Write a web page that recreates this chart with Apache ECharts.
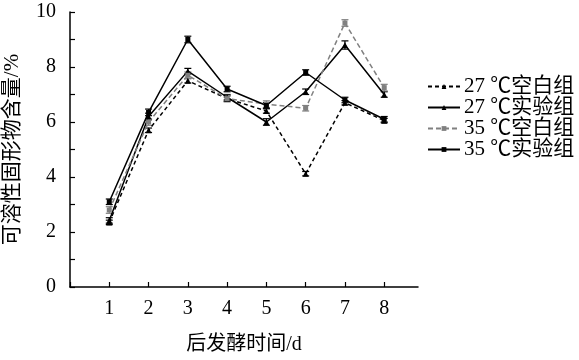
<!DOCTYPE html>
<html>
<head>
<meta charset="utf-8">
<script src="https://cdn.jsdelivr.net/npm/echarts@6/dist/echarts.min.js"></script>
<style>html,body{margin:0;padding:0;background:#fff}#c{width:579px;height:360px}</style>
</head>
<body>
<div id="c"></div>
<script>
const days = [1, 2, 3, 4, 5, 6, 7, 8];
const seriesNames = ['27 ℃空白组', '27 ℃实验组', '35 ℃空白组', '35 ℃实验组'];
const blank27 = [2.35, 5.7, 7.5, 6.85, 6.4, 4.12, 6.7, 6.05];
const exp27 = [2.42, 6.2, 7.85, 6.9, 6.0, 7.1, 8.8, 7.0];
const blank35 = [2.8, 6.0, 7.7, 6.85, 6.65, 6.5, 9.6, 7.25];
const exp35 = [3.1, 6.35, 9.0, 7.2, 6.6, 7.8, 6.8, 6.1];
const errBlank27 = [0.08, 0.08, 0.08, 0.1, 0.08, 0.08, 0.08, 0.08];
const errExp27 = [0.1, 0.12, 0.1, 0.1, 0.12, 0.1, 0.15, 0.1];
const errBlank35 = [0.12, 0.12, 0.12, 0.12, 0.12, 0.1, 0.12, 0.12];
const errExp35 = [0.1, 0.12, 0.12, 0.1, 0.1, 0.1, 0.1, 0.1];
const yTicks = [0, 2, 4, 6, 8, 10];

const FONT = "'Liberation Serif','Noto Sans CJK SC',serif";
const values = [blank27, exp27, blank35, exp35];
const errs = [errBlank27, errExp27, errBlank35, errExp35];
const colors = ['#000000', '#000000', '#808080', '#000000'];
const symbols = ['triangle', 'triangle', 'rect', 'rect'];
const lineTypes = [[4, 3], 'solid', [5, 3], 'solid'];

const series = [];
values.forEach((vals, i) => {
  series.push({
    name: seriesNames[i] + '误差',
    type: 'custom',
    silent: true,
    z: 3,
    data: days.map((d, k) => [d, vals[k] - errs[i][k], vals[k] + errs[i][k]]),
    renderItem: function (params, api) {
      const x = api.value(0);
      const lo = api.coord([x, api.value(1)]);
      const hi = api.coord([x, api.value(2)]);
      const w = 3.5;
      const st = { stroke: colors[i], lineWidth: 1.2 };
      return {
        type: 'group',
        children: [
          { type: 'line', shape: { x1: lo[0], y1: lo[1], x2: hi[0], y2: hi[1] }, style: st },
          { type: 'line', shape: { x1: lo[0] - w, y1: lo[1], x2: lo[0] + w, y2: lo[1] }, style: st },
          { type: 'line', shape: { x1: hi[0] - w, y1: hi[1], x2: hi[0] + w, y2: hi[1] }, style: st }
        ]
      };
    }
  });
  series.push({
    name: seriesNames[i],
    type: 'line',
    z: 4,
    data: days.map((d, k) => [d, vals[k]]),
    symbol: symbols[i],
    symbolSize: symbols[i] === 'rect' ? 5 : 6,
    showSymbol: true,
    itemStyle: { color: colors[i] },
    lineStyle: { color: colors[i], width: 1.5, type: lineTypes[i] },
    animation: false
  });
});

const chart = echarts.init(document.getElementById('c'), null, { renderer: 'canvas' });
chart.setOption({
  animation: false,
  backgroundColor: '#fff',
  grid: { left: 70, top: 12, right: 161, bottom: 73, containLabel: false, outerBoundsMode: 'none' },
  legend: {
    data: seriesNames,
    orient: 'vertical',
    left: 422,
    top: 71,
    itemGap: 0,
    itemWidth: 32,
    itemHeight: 6,
    textStyle: { fontFamily: FONT, fontSize: 21, lineHeight: 19.5, color: '#000', padding: [0, 0, 0, -1] }
  },
  xAxis: {
    type: 'value',
    min: 0,
    max: 8.86,
    interval: 1,
    name: '后发酵时间/d',
    nameLocation: 'middle',
    nameGap: 48,
    nameTextStyle: { fontFamily: FONT, fontSize: 20, color: '#000' },
    axisLine: { lineStyle: { color: '#000', width: 1.5 } },
    axisTick: { inside: true, length: 5, lineStyle: { color: '#000', width: 1.2 } },
    axisLabel: {
      fontFamily: FONT, fontSize: 20, color: '#000', margin: 12,
      showMaxLabel: false,
      formatter: v => (days.indexOf(v) >= 0 ? String(v) : '')
    },
    splitLine: { show: false }
  },
  yAxis: {
    type: 'value',
    min: 0,
    max: 10,
    interval: 1,
    name: '可溶性固形物含量/%',
    nameLocation: 'middle',
    nameGap: 47,
    nameTextStyle: { fontFamily: FONT, fontSize: 21, color: '#000' },
    axisLine: { show: true, lineStyle: { color: '#000', width: 1.5 } },
    axisTick: { inside: true, length: 5, lineStyle: { color: '#000', width: 1.2 } },
    axisLabel: {
      fontFamily: FONT, fontSize: 20, color: '#000', margin: 14,
      formatter: v => (yTicks.indexOf(v) >= 0 ? String(v) : '')
    },
    splitLine: { show: false }
  },
  series: series
});
</script>
</body>
</html>
